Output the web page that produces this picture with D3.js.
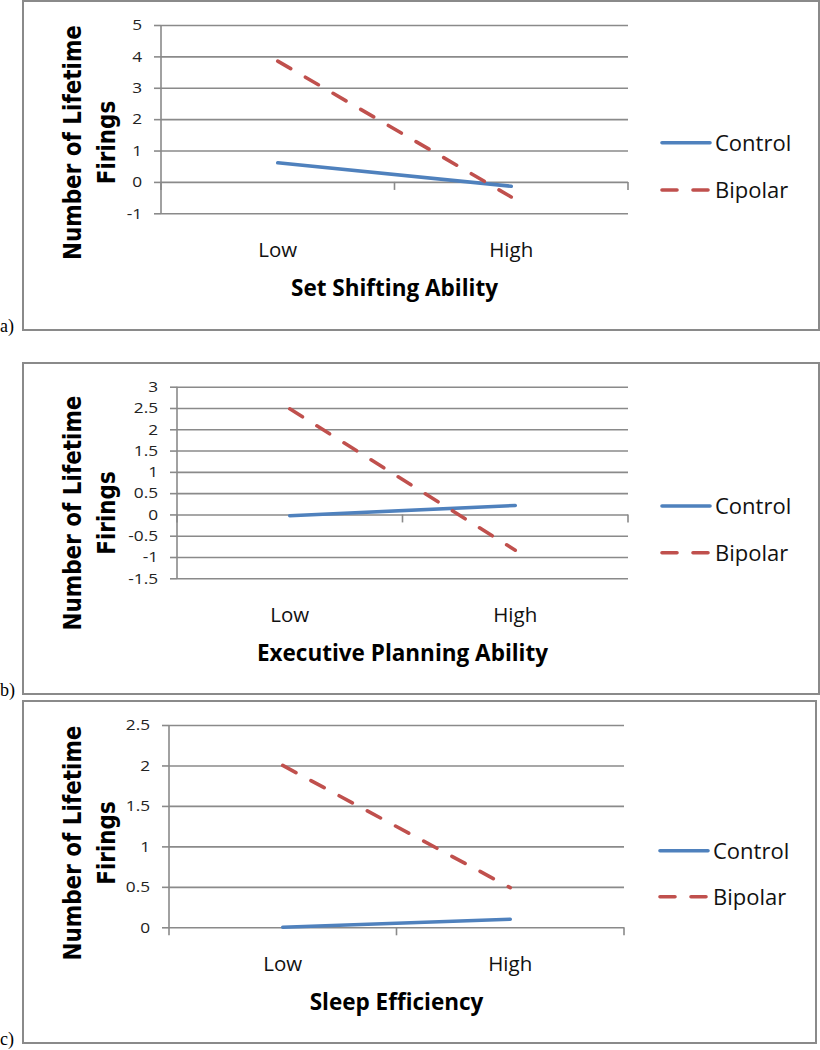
<!DOCTYPE html>
<html>
<head>
<meta charset="utf-8">
<script src="https://cdn.jsdelivr.net/npm/d3@7"></script>
<style>
body{margin:0;background:#fff}
</style>
</head>
<body>
<script>
// values
var categories=["Low","High"]
var seriesNames=["Control","Bipolar"]
var xTitles=["Set Shifting Ability","Executive Planning Ability","Sleep Efficiency"]
var yTitle=["Number of Lifetime","Firings"]
var panelLabels=["a)","b)","c)"]

var controlA=[0.61,-0.14]
var bipolarA=[3.85,-0.48]
var controlB=[-0.03,0.21]
var bipolarB=[2.48,-0.84]
var controlC=[0,0.1]
var bipolarC=[2,0.49]

var ticksA=[-1,0,1,2,3,4,5]
var ticksB=[-1.5,-1,-0.5,0,0.5,1,1.5,2,2.5,3]
var ticksC=[0,0.5,1,1.5,2,2.5]

var colors=["#4f81bd","#c0504d"]
var grey="#8a8a8a"

var W=820,H=1050
var svg=d3.select("body").append("svg").attr("width",W).attr("height",H)

// box = frame, plot = inner plot area, leg = legend y positions
var panels=[
    {box:[23,1,819,330],plot:[161,25,628,213.3],ticks:ticksA,series:[controlA,bipolarA],legY:[142.7,190],legX:662,ty:142.5},
    {box:[23,363,819,694],plot:[177,386.7,628,578.3],ticks:ticksB,series:[controlB,bipolarB],legY:[506,552.7],legX:662,ty:513},
    {box:[23,701,816,1043],plot:[169,725,624,927.3],ticks:ticksC,series:[controlC,bipolarC],legY:[850.7,896.7],legX:660,ty:843}
]

function drawPanel(p,k)
{
    var g=svg.append("g")
    var x0=p.plot[0],y0=p.plot[1],x1=p.plot[2],y1=p.plot[3]
    g.append("rect")
        .attr("x",p.box[0]).attr("y",p.box[1])
        .attr("width",p.box[2]-p.box[0]).attr("height",p.box[3]-p.box[1])
        .attr("fill","none").attr("stroke",grey).attr("stroke-width",2)
    g.append("text").text(panelLabels[k])
        .attr("x",0).attr("y",p.box[3]+2)
        .attr("font-family","'Liberation Serif',serif").attr("font-size",18)

    var y=d3.scaleLinear().domain(d3.extent(p.ticks)).range([y1,y0])
    var x=d3.scalePoint().domain(categories).range([x0,x1]).padding(0.5)

    // gridlines + y ticks
    var yAxis=d3.axisLeft(y).tickValues(p.ticks).tickSize(7).tickPadding(9.5)
        .tickFormat(function(d){return String(d)})
    var ga=g.append("g").attr("transform","translate("+x0+",0)").call(yAxis)
        .attr("font-family","'Open Sans',sans-serif").attr("font-size",15)
    ga.select(".domain").attr("stroke",grey).attr("stroke-width",1.6).attr("d","M0,"+y0+"V"+y1)
    ga.selectAll(".tick line").attr("stroke",grey).attr("stroke-width",1.6)
    ga.selectAll(".tick").append("line").attr("x2",x1-x0).attr("stroke",grey).attr("stroke-width",1.6)
    // reference text is a little wide for its height
    ga.selectAll(".tick text").attr("fill","#222").attr("transform","scale(1.15,1)")

    // category ticks below the zero line
    var bounds=[x0,(x0+x1)/2,x1]
    g.selectAll(".ctick").data(bounds).enter().append("line")
        .attr("x1",function(d){return d}).attr("x2",function(d){return d})
        .attr("y1",y(0)).attr("y2",y(0)+8)
        .attr("stroke",grey).attr("stroke-width",1.6)

    g.selectAll(".cat").data(categories).enter().append("text")
        .text(function(d){return d})
        .attr("x",function(d){return x(d)}).attr("y",y1+44)
        .attr("text-anchor","middle")
        .attr("font-family","'Open Sans',sans-serif").attr("font-size",20.5).attr("fill","#111")

    g.append("text").text(xTitles[k])
        .attr("x",(x0+x1)/2).attr("y",y1+83)
        .attr("text-anchor","middle")
        .attr("font-family","'Open Sans',sans-serif").attr("font-size",22.5).attr("font-weight","bold")

    var yt=g.append("g").attr("transform","translate(81,"+p.ty+") rotate(-90) scale(1,1.12)")
    yt.selectAll("text").data(yTitle).enter().append("text")
        .text(function(d){return d})
        .attr("x",0).attr("y",function(d,i){return i*30.4})
        .attr("text-anchor","middle")
        .attr("font-family","'DejaVu Sans',sans-serif").attr("font-size",21.5).attr("font-weight","bold")

    var line=d3.line().x(function(d,i){return x(categories[i])}).y(function(d){return y(d)})
    p.series.forEach(function(s,i){
        g.append("path").attr("d",line(s))
            .attr("fill","none").attr("stroke",colors[i]).attr("stroke-width",3.6)
            .attr("stroke-linecap","round")
            .attr("stroke-dasharray",i==1?"15,17":null)
    })

    // legend
    seriesNames.forEach(function(n,i){
        var ly=p.legY[i]
        g.append("line").attr("x1",p.legX).attr("x2",p.legX+48).attr("y1",ly).attr("y2",ly)
            .attr("stroke",colors[i]).attr("stroke-width",3.6).attr("stroke-linecap","round")
            .attr("stroke-dasharray",i==1?"15,16":null)
        g.append("text").text(n).attr("x",p.legX+53).attr("y",ly+8)
            .attr("font-family","'Open Sans',sans-serif").attr("font-size",22).attr("fill","#111")
    })
}

panels.forEach(drawPanel)
</script>
</body>
</html>
